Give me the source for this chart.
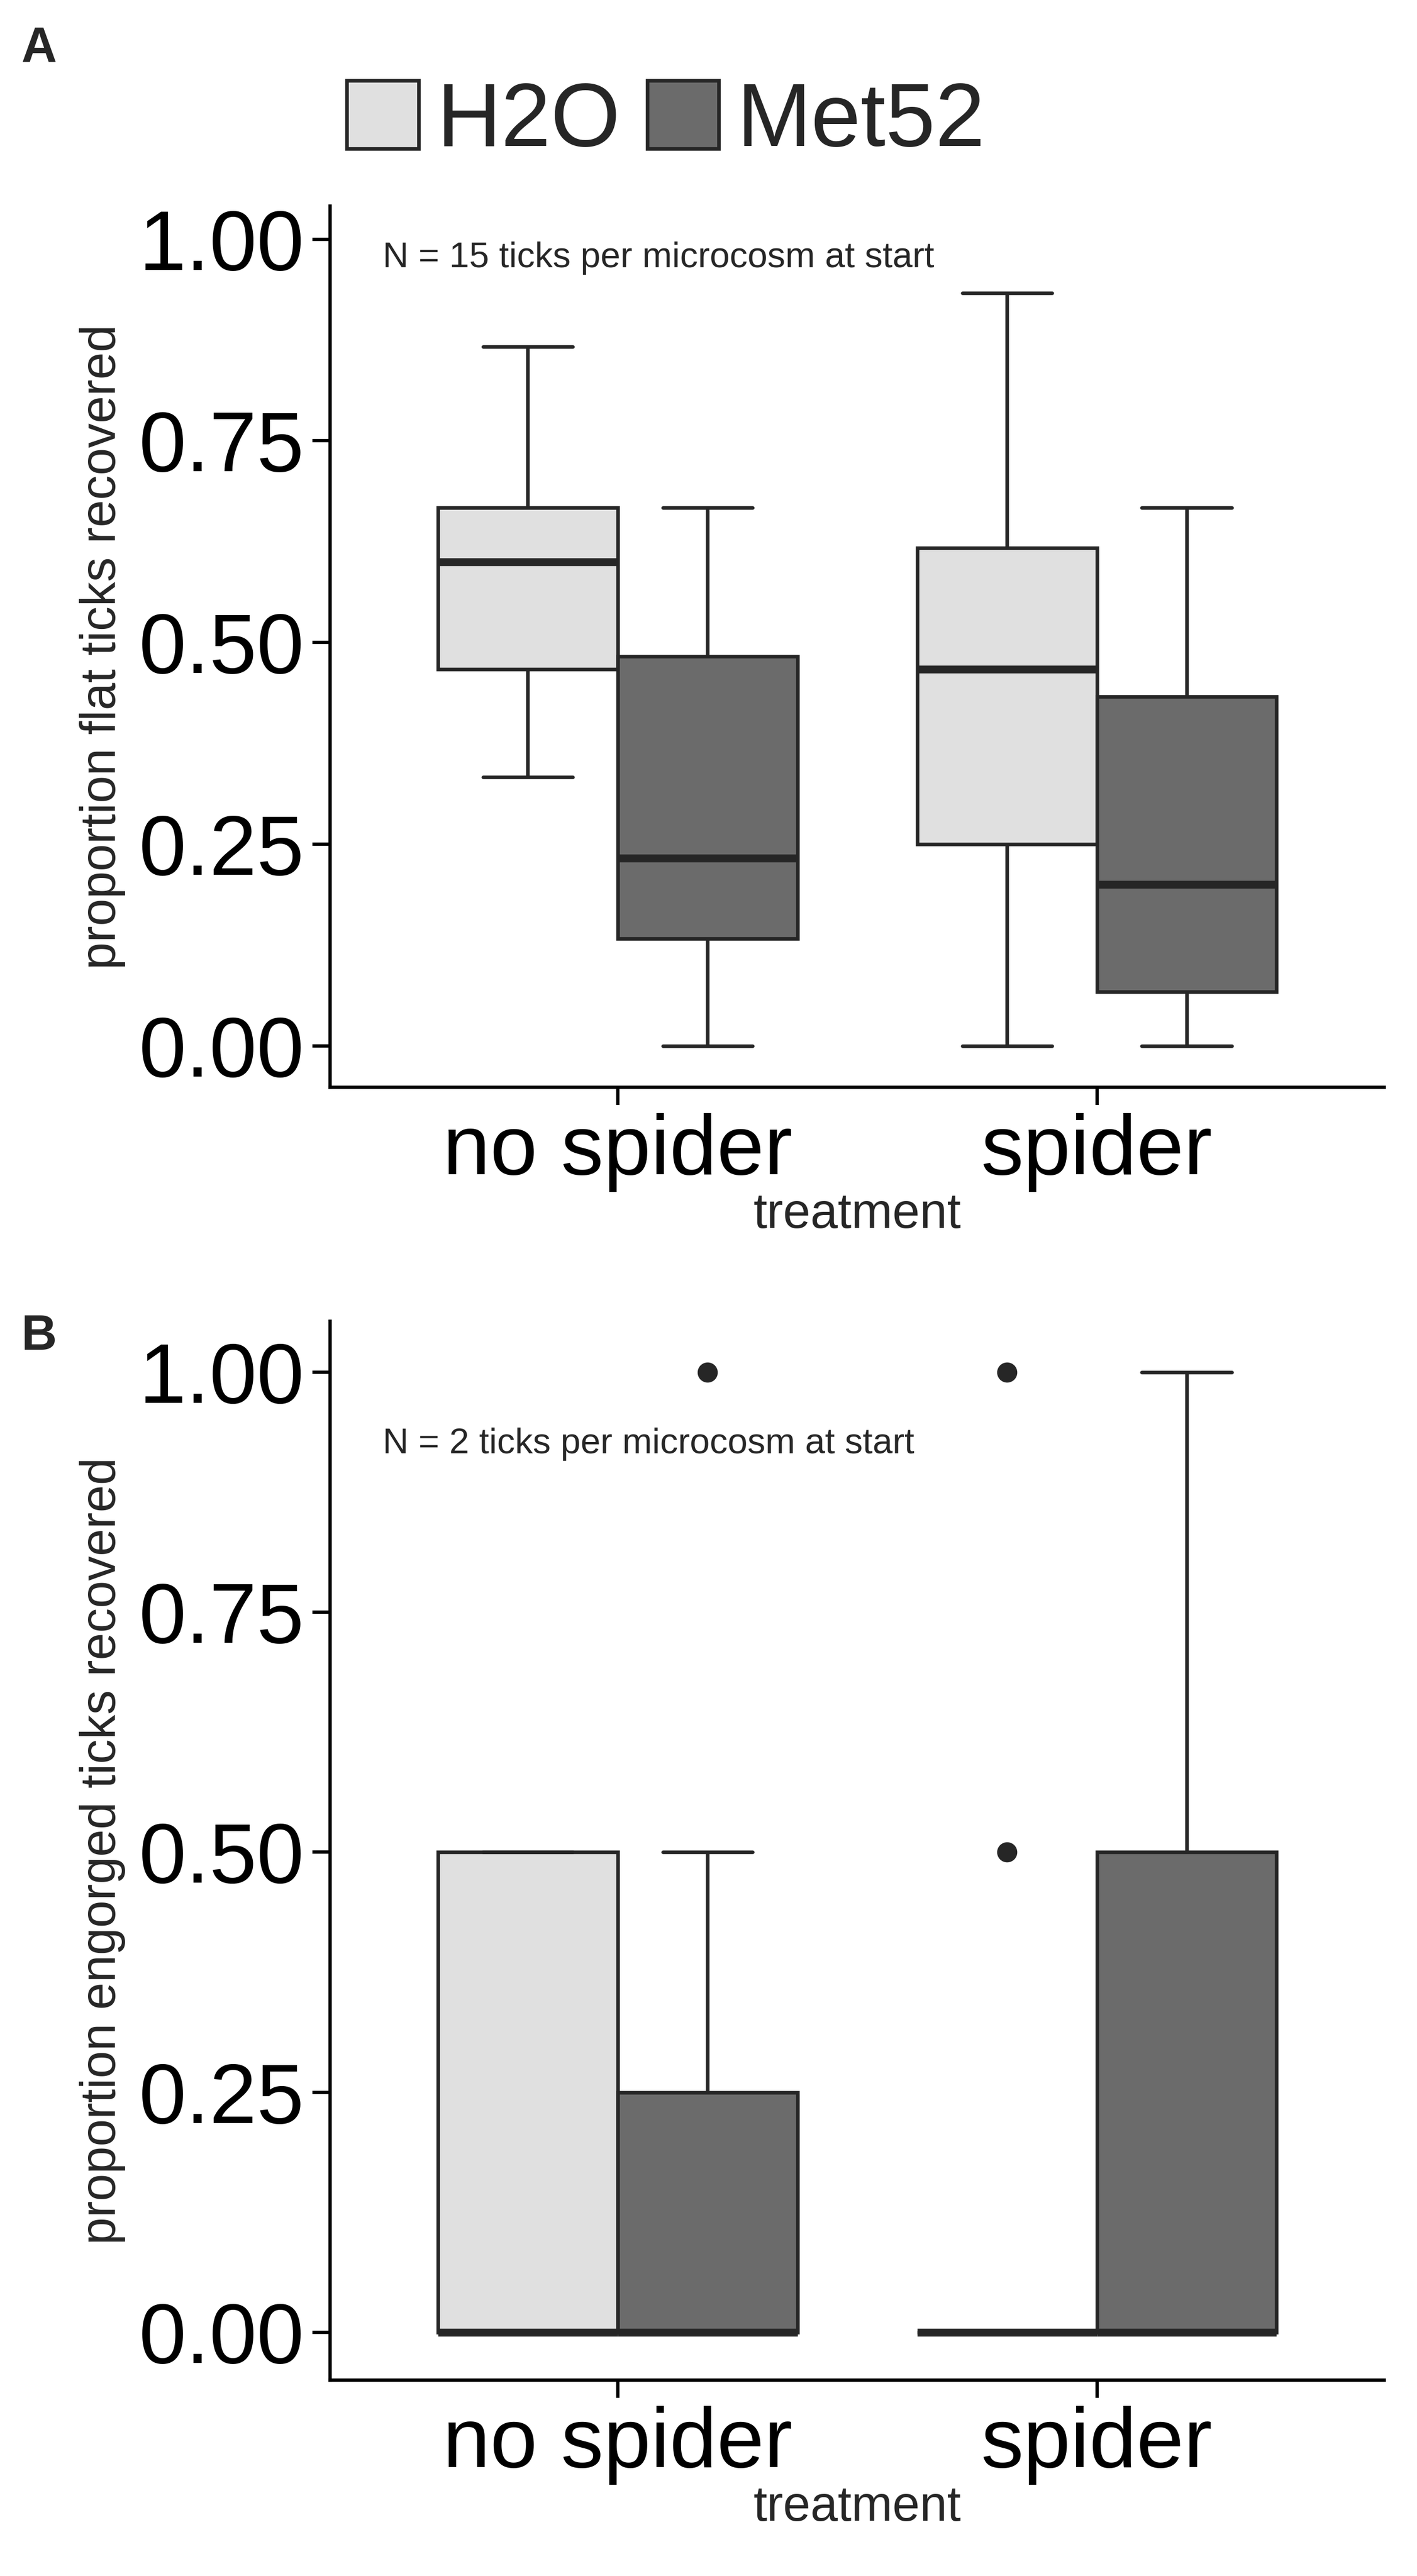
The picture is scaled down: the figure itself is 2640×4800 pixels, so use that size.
import numpy as np, pandas as pd, seaborn as sns, matplotlib
matplotlib.use("Agg")
import matplotlib.pyplot as plt
from matplotlib.patches import Patch

treatments = ["no spider", "spider"]
groups = ["H2O", "Met52"]
colors = {"H2O": "#e0e0e0", "Met52": "#6b6b6b"}

# panel A raw proportions (flat ticks)
flat_nospider_h2o = [0.333, 0.467, 0.6, 0.667, 0.867]
flat_nospider_met = [0.0, 0.133, 0.233, 0.483, 0.667]
flat_spider_h2o = [0.0, 0.25, 0.467, 0.617, 0.933]
flat_spider_met = [0.0, 0.067, 0.2, 0.433, 0.667]
# panel B raw proportions (engorged ticks)
eng_nospider_h2o = [0, 0, 0, 0.5, 0.5]
eng_nospider_met = [0, 0, 0, 0, 0, 0.25, 0.25, 0.5, 1.0]
eng_spider_h2o = [0, 0, 0, 0, 0, 0, 0, 0, 0.5, 1.0]
eng_spider_met = [0, 0, 0, 0.5, 1.0]

def frame(a, b, c, d):
    rows = []
    for vals, t, g in [(a, "no spider", "H2O"), (b, "no spider", "Met52"),
                       (c, "spider", "H2O"), (d, "spider", "Met52")]:
        rows += [(t, g, v) for v in vals]
    return pd.DataFrame(rows, columns=["treatment", "group", "value"])

dfA = frame(flat_nospider_h2o, flat_nospider_met, flat_spider_h2o, flat_spider_met)
dfB = frame(eng_nospider_h2o, eng_nospider_met, eng_spider_h2o, eng_spider_met)

sns.set_style("white")
plt.rcParams['font.family'] = ['Liberation Sans', 'DejaVu Sans']
fig = plt.figure(figsize=(8.8, 16), dpi=300)
axA = fig.add_axes([0.233, 0.578, 0.744, 0.342])
axB = fig.add_axes([0.233, 0.076, 0.744, 0.411])

ec = "#262626"
for ax, df, whis, ylim, ylab, note in [
        (axA, dfA, 3.0, (-0.051, 1.041), "proportion flat ticks recovered", "N = 15 ticks per microcosm at start"),
        (axB, dfB, 1.5, (-0.05, 1.053), "proportion engorged ticks recovered", "N = 2 ticks per microcosm at start")]:
    sns.boxplot(data=df, x="treatment", y="value", hue="group", order=treatments,
                hue_order=groups, palette=colors, width=0.75, gap=0, whis=whis,
                linewidth=1.6, linecolor=ec,
                medianprops=dict(linewidth=3.5, color=ec),
                flierprops=dict(marker="o", markerfacecolor=ec, markeredgecolor=ec, markersize=8),
                legend=False, ax=ax)
    ax.set_ylim(*ylim)
    ax.set_xlim(-0.6, 1.6)
    ax.set_yticks([0, 0.25, 0.5, 0.75, 1.0])
    ax.set_yticklabels(["0.00", "0.25", "0.50", "0.75", "1.00"])
    ax.tick_params(axis="both", labelsize=38, length=8, width=1.5, colors="black", left=True, bottom=True)
    for s in ["top", "right"]:
        ax.spines[s].set_visible(False)
    for s in ["left", "bottom"]:
        ax.spines[s].set_linewidth(1.5)
        ax.spines[s].set_color("black")
    ax.set_xlabel("treatment", fontsize=22, labelpad=0)
    ax.set_ylabel(ylab, fontsize=22, labelpad=6)
    ax.text(0.05, 0.96 if ax is axA else 0.9, note, transform=ax.transAxes, fontsize=16, va="top")

fig.text(0.015, 0.99, "A", fontsize=22, fontweight="bold", va="top")
fig.text(0.015, 0.49, "B", fontsize=22, fontweight="bold", va="top")
handles = [Patch(facecolor=colors[g], edgecolor=ec, linewidth=1.6, label=g) for g in groups]
fig.legend(handles=handles, loc="upper center", bbox_to_anchor=(0.47, 1.0), ncol=2,
           fontsize=40, frameon=False, handlelength=0.8, handleheight=0.8,
           handletextpad=0.2, columnspacing=0.3)
fig.savefig("out.png", dpi=300)
